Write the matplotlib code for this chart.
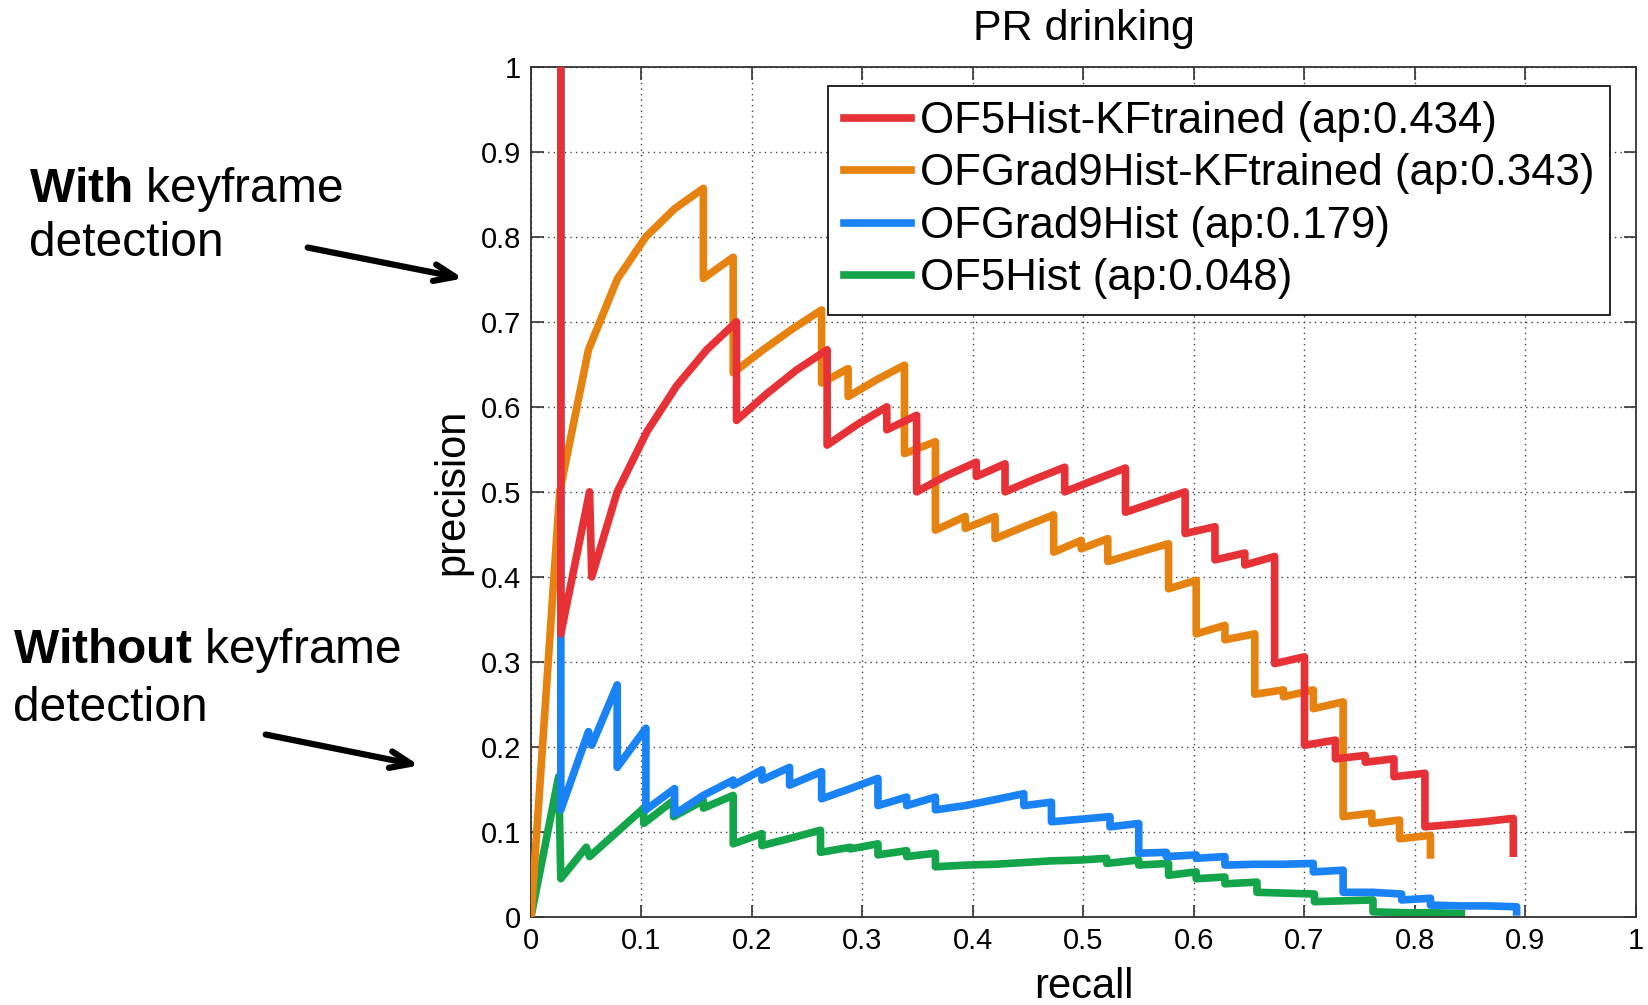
import matplotlib
matplotlib.use("Agg")
import matplotlib.pyplot as plt
from matplotlib.ticker import FormatStrFormatter

plt.rcParams['font.family'] = ['Liberation Sans', 'DejaVu Sans']
plt.rcParams['mathtext.fontset'] = 'custom'
plt.rcParams['mathtext.rm'] = 'Liberation Sans'
plt.rcParams['mathtext.bf'] = 'Liberation Sans:bold'

# OF5Hist-KFtrained
red_recall = [0.027, 0.027, 0.053, 0.055, 0.078, 0.105, 0.132, 0.159, 0.186, 0.186, 0.213, 0.240,
              0.268, 0.268, 0.295, 0.322, 0.322, 0.349, 0.349, 0.376, 0.403, 0.403, 0.429, 0.429,
              0.456, 0.483, 0.483, 0.510, 0.538, 0.538, 0.565, 0.592, 0.592, 0.619, 0.619, 0.646,
              0.646, 0.673, 0.673, 0.700, 0.700, 0.728, 0.728, 0.755, 0.755, 0.781, 0.781, 0.809,
              0.809, 0.836, 0.862, 0.889, 0.889]
red_prec = [1.0, 0.333, 0.500, 0.400, 0.500, 0.571, 0.625, 0.667, 0.700, 0.584, 0.615, 0.643,
            0.667, 0.555, 0.579, 0.600, 0.573, 0.590, 0.500, 0.519, 0.535, 0.518, 0.533, 0.500,
            0.515, 0.529, 0.500, 0.514, 0.528, 0.476, 0.488, 0.500, 0.451, 0.459, 0.420, 0.428,
            0.414, 0.424, 0.298, 0.306, 0.202, 0.208, 0.186, 0.190, 0.182, 0.186, 0.165, 0.169,
            0.106, 0.109, 0.112, 0.116, 0.075]

# OFGrad9Hist-KFtrained
orange_recall = [0.0, 0.026, 0.052, 0.078, 0.104, 0.130, 0.156, 0.156, 0.183, 0.183, 0.210, 0.237,
                 0.263, 0.263, 0.287, 0.287, 0.313, 0.338, 0.338, 0.366, 0.366, 0.393, 0.393, 0.420,
                 0.420, 0.446, 0.473, 0.473, 0.498, 0.498, 0.522, 0.522, 0.550, 0.577, 0.577, 0.602,
                 0.602, 0.628, 0.628, 0.655, 0.655, 0.681, 0.681, 0.708, 0.708, 0.735, 0.735, 0.761,
                 0.761, 0.786, 0.786, 0.814, 0.814]
orange_prec = [0.0, 0.500, 0.667, 0.750, 0.800, 0.833, 0.857, 0.751, 0.776, 0.640, 0.667, 0.692,
               0.714, 0.628, 0.645, 0.612, 0.632, 0.649, 0.545, 0.559, 0.455, 0.471, 0.457, 0.471,
               0.445, 0.459, 0.473, 0.429, 0.443, 0.433, 0.445, 0.418, 0.429, 0.439, 0.386, 0.396,
               0.333, 0.343, 0.326, 0.333, 0.262, 0.267, 0.259, 0.267, 0.245, 0.253, 0.118, 0.122,
               0.110, 0.114, 0.092, 0.096, 0.073]

# OFGrad9Hist
blue_recall = [0.027, 0.027, 0.052, 0.055, 0.078, 0.078, 0.104, 0.104, 0.130, 0.130, 0.156, 0.183,
               0.183, 0.209, 0.209, 0.234, 0.234, 0.263, 0.263, 0.289, 0.314, 0.314, 0.340, 0.340,
               0.366, 0.366, 0.393, 0.420, 0.446, 0.446, 0.471, 0.471, 0.498, 0.524, 0.524, 0.550,
               0.550, 0.575, 0.575, 0.602, 0.602, 0.628, 0.628, 0.655, 0.681, 0.708, 0.708, 0.735,
               0.735, 0.761, 0.788, 0.788, 0.814, 0.814, 0.840, 0.866, 0.892, 0.892]
blue_prec = [1.0, 0.126, 0.218, 0.202, 0.273, 0.176, 0.222, 0.126, 0.151, 0.121, 0.143, 0.161,
             0.155, 0.173, 0.161, 0.176, 0.155, 0.171, 0.139, 0.151, 0.163, 0.131, 0.141, 0.131,
             0.141, 0.126, 0.131, 0.138, 0.145, 0.131, 0.135, 0.112, 0.115, 0.118, 0.106, 0.110,
             0.075, 0.076, 0.071, 0.073, 0.069, 0.071, 0.061, 0.062, 0.062, 0.063, 0.053, 0.055,
             0.029, 0.029, 0.027, 0.020, 0.022, 0.014, 0.013, 0.013, 0.012, 0.006]

# OF5Hist
green_recall = [0.0, 0.025, 0.027, 0.050, 0.053, 0.102, 0.102, 0.129, 0.129, 0.156, 0.156, 0.183,
                0.183, 0.209, 0.209, 0.236, 0.262, 0.262, 0.289, 0.289, 0.314, 0.314, 0.340, 0.340,
                0.366, 0.366, 0.393, 0.420, 0.446, 0.471, 0.498, 0.521, 0.521, 0.550, 0.550, 0.577,
                0.577, 0.602, 0.602, 0.628, 0.628, 0.657, 0.657, 0.683, 0.709, 0.709, 0.735, 0.762,
                0.762, 0.790, 0.815, 0.842]
green_prec = [0.0, 0.165, 0.045, 0.082, 0.071, 0.128, 0.110, 0.137, 0.118, 0.137, 0.128, 0.143,
              0.086, 0.098, 0.084, 0.093, 0.102, 0.076, 0.082, 0.080, 0.086, 0.073, 0.078, 0.071,
              0.075, 0.059, 0.061, 0.062, 0.064, 0.066, 0.067, 0.069, 0.063, 0.067, 0.061, 0.063,
              0.049, 0.053, 0.045, 0.047, 0.039, 0.041, 0.029, 0.028, 0.027, 0.018, 0.019, 0.020,
              0.006, 0.005, 0.005, 0.004]

labels = ["OF5Hist-KFtrained (ap:0.434)", "OFGrad9Hist-KFtrained (ap:0.343)",
          "OFGrad9Hist (ap:0.179)", "OF5Hist (ap:0.048)"]
ticks = [0, 0.1, 0.2, 0.3, 0.4, 0.5, 0.6, 0.7, 0.8, 0.9, 1]

fig = plt.figure(figsize=(16.48, 10.05), dpi=100)
ax = fig.add_axes([0.3222, 0.0876, 0.6705, 0.846])

lw = 5.5
l_red, = ax.plot(red_recall, red_prec, color='#E63237', lw=lw, zorder=5)
l_orange, = ax.plot(orange_recall, orange_prec, color='#E6820F', lw=lw, zorder=4)
l_blue, = ax.plot(blue_recall, blue_prec, color='#1982F5', lw=lw, zorder=3)
l_green, = ax.plot(green_recall, green_prec, color='#14A54B', lw=lw, zorder=2)

ax.set_xlim(0, 1)
ax.set_ylim(0, 1)
ax.set_xticks(ticks)
ax.set_yticks(ticks)
ax.xaxis.set_major_formatter(FormatStrFormatter('%g'))
ax.yaxis.set_major_formatter(FormatStrFormatter('%g'))
ax.tick_params(direction='in', top=True, right=True, length=9, width=1.2,
               labelsize=21, pad=7, color='#333333')
ax.grid(True, linestyle=(0, (1, 3)), color='#444444', lw=1)
for s in ax.spines.values():
    s.set_color('#333333')
    s.set_linewidth(1.3)

ax.set_title("PR drinking", fontsize=31, pad=19)
ax.set_xlabel("recall", fontsize=30, labelpad=9)
ax.set_ylabel("precision", fontsize=30, labelpad=6)

leg = ax.legend([l_red, l_orange, l_blue, l_green], labels, loc='upper right',
                bbox_to_anchor=(0.9765, 0.9776), borderaxespad=0, fontsize=31.5,
                fancybox=False, framealpha=1, edgecolor='black', handlelength=1.55,
                handletextpad=0.2, borderpad=0.35, labelspacing=0.26)
leg.get_frame().set_linewidth(1.2)

# annotations on the left
fig.text(0.0176, 0.799, r"$\mathbf{With}$ keyframe", fontsize=34.5, va='baseline')
fig.text(0.0176, 0.745, "detection", fontsize=34.5, va='baseline')
fig.text(0.0079, 0.3403, r"$\mathbf{Without}$ keyframe", fontsize=34.5, va='baseline')
fig.text(0.0079, 0.2826, "detection", fontsize=34.5, va='baseline')

arrow = dict(arrowstyle='->, head_length=1.5, head_width=0.6', lw=4.5, color='black')
fig.add_artist(plt.Annotation("", xy=(466 / 1648, 1 - 279 / 1005), xytext=(305 / 1648, 1 - 247 / 1005),
                              xycoords='figure fraction', arrowprops=arrow))
fig.add_artist(plt.Annotation("", xy=(422 / 1648, 1 - 766 / 1005), xytext=(263 / 1648, 1 - 734 / 1005),
                              xycoords='figure fraction', arrowprops=arrow))

fig.savefig("out.png", dpi=100)
